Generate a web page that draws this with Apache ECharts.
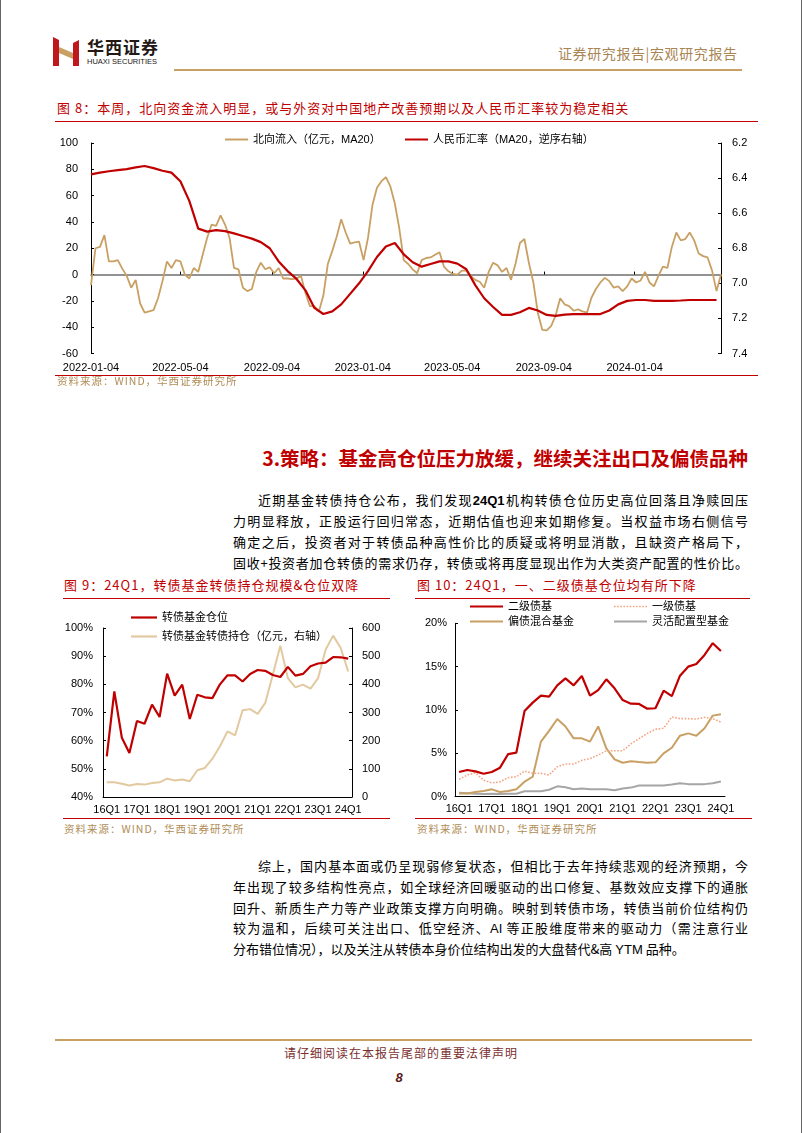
<!DOCTYPE html>
<html><head><meta charset="utf-8">
<script src="https://cdn.jsdelivr.net/npm/echarts@6/dist/echarts.min.js"></script>
<style>
body{margin:0;background:#fff;}
#page{position:relative;width:802px;height:1133px;overflow:hidden;font-family:"Noto Sans CJK SC",sans-serif;background:#fff;}
.abs{position:absolute;white-space:nowrap;}
.ttl{font-size:13px;line-height:18px;color:#C00000;letter-spacing:1px;}
.src{font-size:10.5px;line-height:14px;color:#B08D57;letter-spacing:1px;}
.rl{position:absolute;height:1px;background:#C00000;}
.pl{position:absolute;left:233px;width:515px;text-align:justify;text-align-last:justify;font-size:13px;line-height:20px;color:#000;white-space:normal;}
.lat{font-family:"Liberation Sans",Arial,sans-serif;}
</style></head>
<body>
<div id="page">
  <div style="position:absolute;left:0;top:0;width:1px;height:1133px;background:#666"></div>
  <div style="position:absolute;left:801px;top:0;width:1px;height:1133px;background:#666"></div>

  <!-- header -->
  <svg style="position:absolute;left:52px;top:37px" width="30" height="30" viewBox="0 0 30 30">
    <polygon points="1,0 7,3 7,29 1,29" fill="#C0161E"/>
    <polygon points="21,6 27,3 27,29 21,29" fill="#C0161E"/>
    <polygon points="7,10 21,16 21,22 7,16" fill="#C8A063"/>
  </svg>
  <div class="abs" style="left:87px;top:38px;font-size:17px;line-height:18px;font-weight:bold;color:#231815;letter-spacing:1px">华西证券</div>
  <div class="abs lat" style="left:87px;top:57px;font-size:7.5px;line-height:9px;color:#231815">HUAXI SECURITIES</div>
  <div class="abs" style="left:558px;top:44px;font-size:14px;line-height:18px;color:#A98554;letter-spacing:0.6px">证券研究报告|宏观研究报告</div>
  <div style="position:absolute;left:174px;top:69px;width:568px;height:2px;background:#C8A063"></div>

  <!-- chart 8 -->
  <div class="abs ttl" style="left:57px;top:99px">图 8：本周，北向资金流入明显，或与外资对中国地产改善预期以及人民币汇率较为稳定相关</div>
  <div class="rl" style="left:55px;top:121px;width:703px"></div>
  <div id="c8" style="position:absolute;left:0;top:125px;width:802px;height:250px"></div>
  <div class="rl" style="left:55px;top:375px;width:703px"></div>
  <div class="abs src" style="left:57px;top:374px">资料来源：WIND，华西证券研究所</div>

  <!-- section -->
  <div class="abs" style="right:54px;top:446px;font-size:19.5px;line-height:24px;font-weight:bold;color:#C00000">3.策略：基金高仓位压力放缓，继续关注出口及偏债品种</div>
  <div class="pl" style="top:490px;text-indent:25px">近期基金转债持仓公布，我们发现<b class="lat">24Q1</b>机构转债仓位历史高位回落且净赎回压</div>
  <div class="pl" style="top:511px">力明显释放，正股运行回归常态，近期估值也迎来如期修复。当权益市场右侧信号</div>
  <div class="pl" style="top:532px">确定之后，投资者对于转债品种高性价比的质疑或将明显消散，且缺资产格局下，</div>
  <div class="pl" style="top:553px">固收+投资者加仓转债的需求仍存，转债或将再度显现出作为大类资产配置的性价比。</div>

  <!-- chart 9 / 10 titles -->
  <div class="abs ttl" style="left:64px;top:576px">图 9：24Q1，转债基金转债持仓规模&amp;仓位双降</div>
  <div class="rl" style="left:63px;top:598px;width:327px"></div>
  <div class="abs ttl" style="left:417px;top:576px">图 10：24Q1，一、二级债基仓位均有所下降</div>
  <div class="rl" style="left:415px;top:598px;width:335px"></div>
  <div id="c9" style="position:absolute;left:0;top:600px;width:400px;height:217px"></div>
  <div id="c10" style="position:absolute;left:400px;top:600px;width:402px;height:217px"></div>
  <div class="rl" style="left:63px;top:818px;width:327px"></div>
  <div class="rl" style="left:415px;top:818px;width:337px"></div>
  <div class="abs src" style="left:64px;top:822px">资料来源：WIND，华西证券研究所</div>
  <div class="abs src" style="left:417px;top:822px">资料来源：WIND，华西证券研究所</div>

  <!-- paragraph 2 -->
  <div class="pl" style="top:856px;text-indent:25px">综上，国内基本面或仍呈现弱修复状态，但相比于去年持续悲观的经济预期，今</div>
  <div class="pl" style="top:877px">年出现了较多结构性亮点，如全球经济回暖驱动的出口修复、基数效应支撑下的通胀</div>
  <div class="pl" style="top:898px">回升、新质生产力等产业政策支撑方向明确。映射到转债市场，转债当前价位结构仍</div>
  <div class="pl" style="top:918px">较为温和，后续可关注出口、低空经济、<span class="lat">AI</span> 等正股维度带来的驱动力（需注意行业</div>
  <div class="pl" style="top:939px;text-align:left;text-align-last:left">分布错位情况），以及关注从转债本身价位结构出发的大盘替代&amp;高 <span class="lat">YTM</span> 品种。</div>

  <!-- footer -->
  <div style="position:absolute;left:55px;top:1039px;width:697px;height:2px;background:#C8A063"></div>
  <div class="abs" style="left:0;width:802px;text-align:center;top:1045px;font-size:12px;line-height:16px;color:#7B3030;letter-spacing:1px">请仔细阅读在本报告尾部的重要法律声明</div>
  <div class="abs lat" style="left:0;width:798px;text-align:center;top:1070px;font-size:13px;line-height:16px;color:#5A1A1A;font-style:italic;font-weight:bold">8</div>
</div>

<script>
// ---------- Figure 8 data ----------
const flowStart = '2022-01-04';
const flowStepDays = 6;
const flowName = '北向流入（亿元，MA20）';
const flowValues = [-8,20,21,30,10,10,11,4.5,-1,-10,
  -4,-22,-29,-28,-27,-18,-5,10,5,11,
  10,0,-3,5,2,15,28,38,37,45,
  38,28,5,4,-10,-12.6,-11,2,9,4,
  5.5,1,5,-3,-3,-3.5,-3,-1,-14,-24,
  -24,-28,-16,8,18,29,42,32,23.5,24.5,
  25,11,28,53,66,71,74,67,54,35,
  11,8,4,1,11,12.6,13,15,17,6,
  2.5,0.5,0,3,3,-1,-4,-5.5,-10,2,
  9,7,2,5,-4,8,24,27,9,-6,
  -29,-42,-42.5,-39,-31,-18,-22.6,-24,-27.5,-26.5,
  -28,-29,-17.6,-11,-6,-2.5,-5,-10,-9,-12.5,
  -9,-3,-6,-4.5,2,-6,-9,-1,6,5,
  21,32,26,27,32,26,16,14,13,3,
  -12.6,0];
const rmbStart = '2022-01-04';
const rmbStepDays = 12;
const rmbName = '人民币汇率（MA20，逆序右轴）';
const rmbValues = [6.379,6.369,6.361,6.355,6.349,6.339,6.331,6.343,6.358,6.369,
  6.418,6.53,6.688,6.705,6.697,6.702,6.715,6.73,6.745,6.765,
  6.80,6.875,6.93,6.975,7.04,7.14,7.175,7.16,7.12,7.06,
  7.00,6.93,6.85,6.79,6.77,6.835,6.88,6.905,6.89,6.875,
  6.875,6.888,6.92,7.01,7.085,7.135,7.18,7.18,7.165,7.14,
  7.155,7.18,7.186,7.178,7.175,7.175,7.175,7.175,7.155,7.12,
  7.10,7.095,7.095,7.10,7.10,7.10,7.098,7.095,7.095,7.095,7.095];
const dateTickLabels = ['2022-01-04','2022-05-04','2022-09-04','2023-01-04','2023-05-04','2023-09-04','2024-01-04'];
const flowAxisTicks = [-60,-40,-20,0,20,40,60,80,100];
const rmbAxisTicks = [6.2,6.4,6.6,6.8,7.0,7.2,7.4];

// ---------- Figure 9 data ----------
const quarters = ['16Q1','16Q2','16Q3','16Q4','17Q1','17Q2','17Q3','17Q4','18Q1','18Q2','18Q3','18Q4',
  '19Q1','19Q2','19Q3','19Q4','20Q1','20Q2','20Q3','20Q4','21Q1','21Q2','21Q3','21Q4',
  '22Q1','22Q2','22Q3','22Q4','23Q1','23Q2','23Q3','23Q4','24Q1'];
const cbPosName = '转债基金仓位';
const cbPos = [54.4,77.5,61,55.6,67,66,72.8,68.4,83.8,76,79.9,67.7,76.3,75.4,75.1,80,
  83.2,83.2,81,83.7,85.1,84.8,83.3,82.6,86.2,83.1,83.7,86.4,87.4,87.7,89.7,89.6,89.1];
const cbHoldName = '转债基金转债持仓（亿元，右轴）';
const cbHold = [52,52,47,41,46,44,50,52,65,59,62,56,95,103,136,180,233,219,308,312,295,334,434,537,422,389,399,385,422,523,573,529,446];

// ---------- Figure 10 data ----------
const erjiName = '二级债基';
const erji = [2.85,3.08,2.92,2.65,2.85,3.35,4.92,5.08,9.88,10.85,11.65,11.54,12.85,13.65,12.85,13.92,11.65,12.3,13.54,12.5,11.15,10.73,10.7,10.15,10.2,12.23,11.6,13.96,15.0,15.3,16.35,17.7,16.8];
const yijiName = '一级债基';
const yiji = [2.0,2.5,2.75,1.9,1.6,1.7,2.2,2.3,2.95,2.7,2.7,2.5,3.46,3.77,3.77,4.2,4.4,4.8,5.3,5.3,5.3,6.1,6.7,7.3,7.77,7.9,9.2,9.0,9.0,8.96,9.15,9.0,8.6];
const pianName = '偏债混合基金';
const pian = [0.38,0.38,0.54,0.65,0.85,0.54,0.65,0.85,1.73,2.3,6.35,7.6,8.96,8.1,6.73,6.73,6.35,8.1,5.58,4.3,3.92,4.1,4.0,3.92,3.96,5.0,5.65,7.04,7.3,7.04,7.9,9.35,9.5];
const lingName = '灵活配置型基金';
const ling = [0.45,0.4,0.35,0.3,0.35,0.3,0.35,0.35,0.62,0.62,0.62,0.8,1.2,1.1,0.85,0.95,0.85,0.85,0.85,0.75,0.95,1.05,1.3,1.3,1.3,1.3,1.4,1.55,1.45,1.45,1.45,1.55,1.75];

// ---------- helpers ----------
const DAY = 86400000;
function parseUTC(s){ const p = s.split('-').map(Number); return Date.UTC(p[0], p[1]-1, p[2]); }
function pad(n){ return (n<10?'0':'')+n; }
function fmtDate(v){ const d = new Date(v); return d.getUTCFullYear()+'-'+pad(d.getUTCMonth()+1)+'-'+pad(d.getUTCDate()); }
const FONT = '"Liberation Sans", Arial, "Noto Sans CJK SC", sans-serif';
const BLACK = '#000';
// legend icons: plain line swatches
const LINE_ICON = 'rect';
let DOT_ICON = 'path://';
for (let k = 0; k < 11; k++) { DOT_ICON += 'M' + (k*3) + ' 0h1.6v1.6h-1.6z'; }

// ---------- Figure 8 ----------
(function(){
  const f0 = parseUTC(flowStart), r0 = parseUTC(rmbStart);
  const flowData = flowValues.map((v,i)=>[f0 + i*flowStepDays*DAY, v]);
  const rmbData = rmbValues.map((v,i)=>[r0 + i*rmbStepDays*DAY, v]);
  const xMin = f0, xMax = flowData[flowData.length-1][0];
  const tickVals = dateTickLabels.map(parseUTC);
  const chart = echarts.init(document.getElementById('c8'), null, {renderer:'canvas'});
  const lg = (name, left) => ({data:[{name:name, icon:LINE_ICON}], left:left, top:9, padding:0, itemWidth:23, itemHeight:2,
      textStyle:{fontSize:11, color:BLACK, fontFamily:FONT}});
  chart.setOption({
    animation:false,
    textStyle:{fontFamily:FONT},
    grid:{left:91, right:81, top:18, height:210.5},
    legend:[lg(flowName, 225), lg(rmbName, 405)],
    xAxis:[
      {type:'value', min:xMin, max:xMax, position:'bottom', scale:true,
       axisLine:{show:false, onZero:false}, axisTick:{show:false}, splitLine:{show:false},
       axisLabel:{customValues:tickVals, formatter:fmtDate, fontSize:11, color:BLACK, margin:9, showMinLabel:true, showMaxLabel:true}},
      {type:'value', min:xMin, max:xMax, position:'bottom', scale:true,
       axisLine:{show:true, onZero:true, lineStyle:{color:'#6f6f6f', width:1.5}},
       axisTick:{show:true, customValues:tickVals, inside:true, length:3, lineStyle:{color:BLACK}},
       axisLabel:{show:false}, splitLine:{show:false}}
    ],
    yAxis:[
      {type:'value', min:flowAxisTicks[0], max:flowAxisTicks[flowAxisTicks.length-1], interval:20,
       axisLine:{show:true, onZero:false, lineStyle:{color:BLACK}},
       axisTick:{show:true, inside:true, length:3, lineStyle:{color:BLACK}},
       splitLine:{show:false}, axisLabel:{fontSize:11, color:BLACK, margin:13}},
      {type:'value', min:rmbAxisTicks[0], max:rmbAxisTicks[rmbAxisTicks.length-1], interval:0.2, inverse:true, position:'right',
       axisLine:{show:true, onZero:false, lineStyle:{color:BLACK}},
       axisTick:{show:true, inside:true, length:3, lineStyle:{color:BLACK}},
       splitLine:{show:false}, axisLabel:{fontSize:11, color:BLACK, margin:11, formatter:v=>(+v).toFixed(1)}}
    ],
    series:[
      {name:flowName, type:'line', xAxisIndex:0, yAxisIndex:0, data:flowData, symbol:'none', z:2,
       lineStyle:{color:'#C9A064', width:1.8}, itemStyle:{color:'#C9A064'}},
      {name:rmbName, type:'line', xAxisIndex:0, yAxisIndex:1, data:rmbData, symbol:'none', z:3,
       lineStyle:{color:'#C00000', width:2.2}, itemStyle:{color:'#C00000'}}
    ]
  });
})();

// ---------- Figure 9 ----------
(function(){
  const chart = echarts.init(document.getElementById('c9'));
  const lg = (name, top) => ({data:[{name:name, icon:LINE_ICON}], left:131, top:top, padding:0, itemWidth:26, itemHeight:2.2,
      textStyle:{fontSize:11, color:BLACK, fontFamily:FONT}});
  const yBase = {axisLine:{show:true, onZero:false, lineStyle:{color:BLACK}},
      axisTick:{show:true, inside:true, length:3, lineStyle:{color:BLACK}}, splitLine:{show:false}};
  chart.setOption({
    animation:false,
    textStyle:{fontFamily:FONT},
    grid:{left:103, right:48, top:28, height:169},
    legend:[lg(cbPosName, 12), lg(cbHoldName, 31)],
    xAxis:{type:'category', data:quarters, boundaryGap:true,
      axisLine:{show:true, lineStyle:{color:BLACK}}, axisTick:{show:false},
      axisLabel:{interval:3, fontSize:11, color:BLACK, margin:7}},
    yAxis:[
      Object.assign({type:'value', min:40, max:100, interval:10,
        axisLabel:{fontSize:11, color:BLACK, margin:10, formatter:'{value}%'}}, yBase),
      Object.assign({type:'value', min:0, max:600, interval:100, position:'right',
        axisLabel:{fontSize:11, color:BLACK, margin:10}}, yBase)
    ],
    series:[
      {name:cbPosName, type:'line', yAxisIndex:0, data:cbPos, symbol:'none', z:3,
       lineStyle:{color:'#C00000', width:2.2}, itemStyle:{color:'#C00000'}},
      {name:cbHoldName, type:'line', yAxisIndex:1, data:cbHold, symbol:'none', z:2,
       lineStyle:{color:'#E3C9A0', width:2}, itemStyle:{color:'#E3C9A0'}}
    ]
  });
})();

// ---------- Figure 10 ----------
(function(){
  const chart = echarts.init(document.getElementById('c10'));
  const lg = (name, icon, left, top) => ({data:[{name:name, icon:icon}], left:left, top:top, padding:0, itemWidth:33, itemHeight:2,
      textStyle:{fontSize:11, color:BLACK, fontFamily:FONT}});
  chart.setOption({
    animation:false,
    textStyle:{fontFamily:FONT},
    grid:{left:55, right:77, top:23.3, height:173.4},
    legend:[lg(erjiName, LINE_ICON, 70, 1), lg(yijiName, DOT_ICON, 214, 1), lg(pianName, LINE_ICON, 70, 16), lg(lingName, LINE_ICON, 214, 16)],
    xAxis:{type:'category', data:quarters, boundaryGap:true,
      axisLine:{show:true, lineStyle:{color:BLACK}}, axisTick:{show:false},
      axisLabel:{interval:3, fontSize:11, color:BLACK, margin:7}},
    yAxis:{type:'value', min:0, max:20, interval:5,
      axisLine:{show:true, lineStyle:{color:BLACK}},
      axisTick:{show:true, inside:true, length:3, lineStyle:{color:BLACK}}, splitLine:{show:false},
      axisLabel:{fontSize:11, color:BLACK, margin:8, formatter:'{value}%'}},
    series:[
      {name:erjiName, type:'line', data:erji, symbol:'none', z:5,
       lineStyle:{color:'#C00000', width:2.2}, itemStyle:{color:'#C00000'}},
      {name:yijiName, type:'line', data:yiji, symbol:'none', z:4,
       lineStyle:{color:'#F4A582', width:1.6, type:'dotted'}, itemStyle:{color:'#F4A582'}},
      {name:pianName, type:'line', data:pian, symbol:'none', z:3,
       lineStyle:{color:'#C9A064', width:2}, itemStyle:{color:'#C9A064'}},
      {name:lingName, type:'line', data:ling, symbol:'none', z:2,
       lineStyle:{color:'#A6A6A6', width:2}, itemStyle:{color:'#A6A6A6'}}
    ]
  });
})();
</script>
</body></html>
